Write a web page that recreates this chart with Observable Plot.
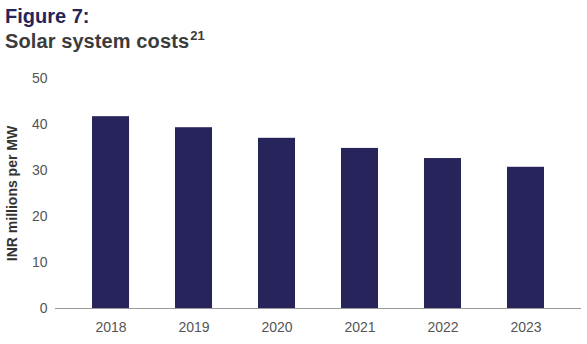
<!DOCTYPE html>
<html>
<head>
<meta charset="utf-8">
<script src="https://cdn.jsdelivr.net/npm/d3@7"></script>
<script src="https://cdn.jsdelivr.net/npm/@observablehq/plot@0.6"></script>
<style>
  body { margin: 0; background: #fff; font-family: "Liberation Sans", Arial, sans-serif; }
  #title { padding: 4px 0 0 5px; height: 58px; box-sizing: border-box; }
  #title .l1 { color: #26245a; font-weight: bold; font-size: 20px; line-height: 25px; }
  #title .l2 { color: #3b3b3b; font-weight: bold; font-size: 20px; line-height: 25px; letter-spacing: 0.1px; }
  #title sup { font-size: 13px; vertical-align: 8px; line-height: 0; margin-left: 1px; }
  #chart svg [aria-label="y-axis label"] text, #chart svg [aria-label="y-axis label"] { font-weight: bold; fill: #333; }
</style>
</head>
<body>
<div id="title"><div class="l1">Figure 7:</div><div class="l2">Solar system costs<sup>21</sup></div></div>
<div id="chart"></div>
<script>
const years = ["2018", "2019", "2020", "2021", "2022", "2023"];
const costs = [41.7, 39.3, 37.0, 34.8, 32.6, 30.7];
const yTicks = [0, 10, 20, 30, 40, 50];
const yLabel = "INR millions per MW";

const data = years.map((y, i) => ({year: y, cost: costs[i]}));

const chart = Plot.plot({
  width: 587,
  height: 286,
  marginTop: 20,
  marginBottom: 36,
  marginLeft: 55,
  marginRight: 6,
  style: {fontFamily: "Liberation Sans, Arial, sans-serif", fontSize: "14px", color: "#555", background: "#fff"},
  x: {domain: years, paddingInner: 0.554, paddingOuter: 0.446, round: false, label: null},
  y: {domain: [0, 50], label: null},
  marks: [
    Plot.barY(data, {x: "year", y: "cost", fill: "#26245a"}),
    Plot.ruleY([0], {stroke: "#999", strokeWidth: 1.2}),
    Plot.axisX({tickSize: 0, tickPadding: 14, label: null, fill: "#555"}),
    Plot.axisY(yTicks, {tickSize: 0, tickPadding: 8, label: yLabel, labelAnchor: "center", labelOffset: 48, labelArrow: "none", fill: "#555"})
  ]
});
document.getElementById("chart").appendChild(chart);
</script>
</body>
</html>
